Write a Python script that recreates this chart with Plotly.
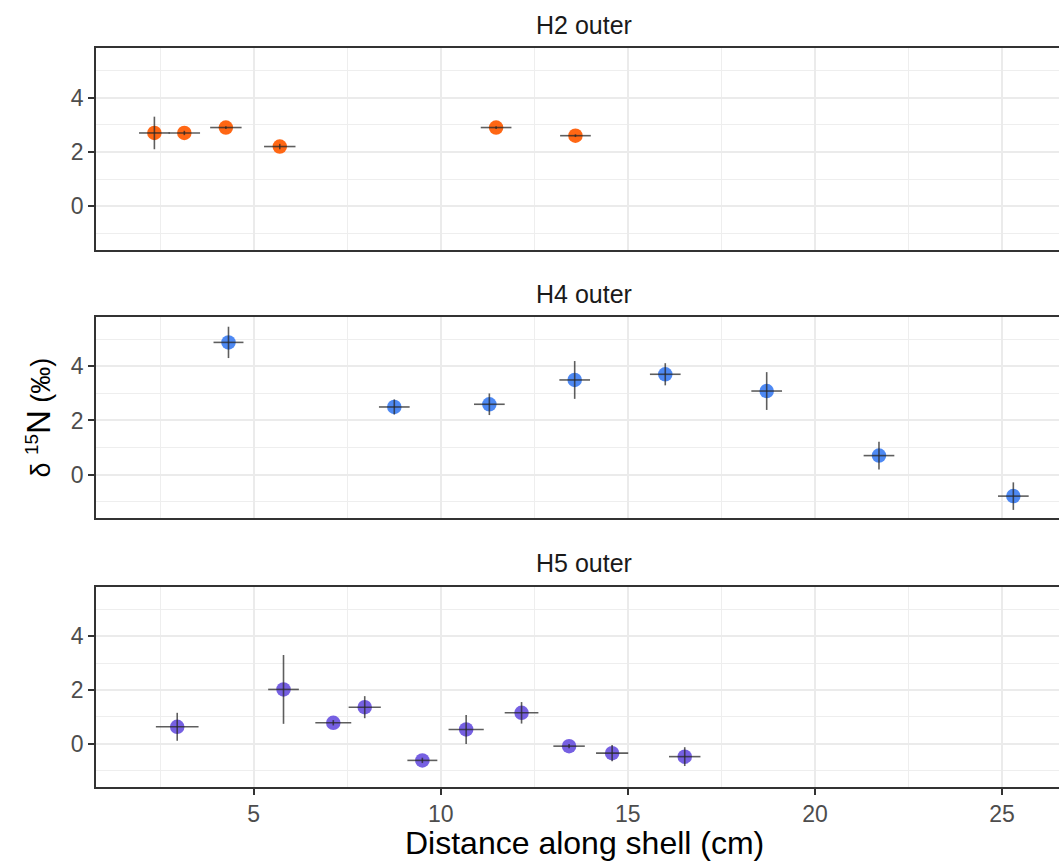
import plotly.graph_objects as go
from plotly.subplots import make_subplots

# ---- data ----
panel_titles = ["H2 outer", "H4 outer", "H5 outer"]

h2_x = [2.35, 3.15, 4.26, 5.70, 11.48, 13.60]
h2_y = [2.70, 2.70, 2.90, 2.20, 2.90, 2.60]
h2_yerr = [0.60, 0.08, 0.05, 0.10, 0.05, 0.05]
h2_xerr = [0.41, 0.42, 0.42, 0.42, 0.41, 0.41]

h4_x = [4.33, 8.76, 11.30, 13.58, 16.00, 18.71, 21.71, 25.30]
h4_y = [4.89, 2.50, 2.60, 3.50, 3.71, 3.09, 0.70, -0.80]
h4_yerr = [0.58, 0.28, 0.40, 0.70, 0.41, 0.70, 0.51, 0.51]
h4_xerr = [0.40, 0.41, 0.41, 0.41, 0.41, 0.41, 0.41, 0.41]

h5_x = [2.96, 5.80, 7.13, 7.97, 9.51, 10.68, 12.16, 13.43, 14.58, 16.52]
h5_y = [0.63, 2.02, 0.78, 1.36, -0.62, 0.53, 1.15, -0.09, -0.35, -0.48]
h5_yerr = [0.52, 1.28, 0.10, 0.41, 0.10, 0.54, 0.40, 0.08, 0.30, 0.35]
h5_xerr = [0.57, 0.41, 0.48, 0.43, 0.40, 0.47, 0.45, 0.42, 0.43, 0.42]

colors = ["#FF5A00", "#3F7FF2", "#6A52E0"]

series = [
    (h2_x, h2_y, h2_xerr, h2_yerr),
    (h4_x, h4_y, h4_xerr, h4_yerr),
    (h5_x, h5_y, h5_xerr, h5_yerr),
]

fig = make_subplots(rows=3, cols=1)

for i, (xs, ys, xe, ye) in enumerate(series):
    r = i + 1
    fig.add_trace(go.Scatter(
        x=xs, y=ys, mode="markers",
        marker=dict(color=colors[i], size=14.5, opacity=0.92, line=dict(width=0)),
        showlegend=False, hoverinfo="skip"), row=r, col=1)
    fig.add_trace(go.Scatter(
        x=xs, y=ys, mode="markers",
        marker=dict(color="rgba(0,0,0,0)", size=1),
        error_x=dict(type="data", array=xe, visible=True, width=0,
                     thickness=1.6, color="rgba(40,40,40,0.75)"),
        error_y=dict(type="data", array=ye, visible=True, width=0,
                     thickness=1.6, color="rgba(40,40,40,0.75)"),
        showlegend=False, hoverinfo="skip"), row=r, col=1)

domains = [[0.7267, 1.0], [0.3640, 0.6360], [0.0, 0.2706]]
xrange = [0.79, 26.52]
yrange = [-1.61, 5.83]

grid_major = "#EBEBEB"
grid_minor = "#EEEEEE"
axis_col = "#333333"
font_fam = "Liberation Sans, Arial, sans-serif"

for i in range(3):
    sfx = "" if i == 0 else str(i + 1)
    bottom = (i == 2)
    fig.layout["xaxis" + sfx].update(
        range=xrange, tickmode="linear", tick0=0, dtick=5,
        showgrid=True, gridcolor=grid_major, gridwidth=2,
        minor=dict(tick0=0, dtick=2.5, showgrid=True, gridcolor=grid_minor, gridwidth=1, ticks=""),
        zeroline=False, showline=True, mirror=True, linecolor=axis_col, linewidth=1.5,
        ticks="outside" if bottom else "", ticklen=6, tickwidth=1.5, tickcolor=axis_col,
        showticklabels=bottom,
        tickfont=dict(size=23, color="#4D4D4D", family=font_fam),
    )
    fig.layout["yaxis" + sfx].update(
        domain=domains[i], range=yrange, tickmode="linear", tick0=0, dtick=2,
        showgrid=True, gridcolor=grid_major, gridwidth=2,
        minor=dict(tick0=1, dtick=2, showgrid=True, gridcolor=grid_minor, gridwidth=1, ticks=""),
        zeroline=False, showline=True, mirror=False, linecolor=axis_col, linewidth=1.5,
        ticks="outside", ticklen=6, tickwidth=1.5, tickcolor=axis_col,
        tickfont=dict(size=23, color="#4D4D4D", family=font_fam),
    )

annotations = []
strip_y = [1.0311, 0.6671, 0.3031]
for t, yy in zip(panel_titles, strip_y):
    annotations.append(dict(text=t, x=0.5068, y=yy, xref="paper", yref="paper",
                            xanchor="center", yanchor="middle", showarrow=False,
                            font=dict(size=25, color="#1A1A1A", family=font_fam)))

annotations.append(dict(
    text="δ <sup>15</sup><span style='font-size:33px'>N</span> (‰)",
    x=-0.0602, y=0.5, xref="paper", yref="paper", textangle=-90,
    xanchor="center", yanchor="middle", showarrow=False,
    font=dict(size=27, color="#000000", family=font_fam)))

annotations.append(dict(
    text="Distance along shell (cm)", x=0.5068, y=-0.0755, xref="paper", yref="paper",
    xanchor="center", yanchor="middle", showarrow=False,
    font=dict(size=32, color="#000000", family=font_fam)))

fig.update_layout(
    width=1059, height=863,
    margin=dict(l=96, r=0, t=48, b=76),
    paper_bgcolor="white", plot_bgcolor="white",
    annotations=annotations,
    font=dict(family=font_fam),
)

fig.write_html("out.html", config={"displayModeBar": False},
               post_script="document.body.style.margin='0';document.body.style.overflow='hidden';")
